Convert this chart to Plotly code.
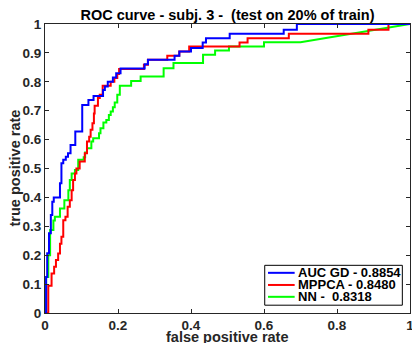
import plotly.graph_objects as go

# ---------------- data ----------------
series_names = ["AUC GD - 0.8854", "MPPCA - 0.8480", "NN -\u00a0 0.8318"]
series_colors = ["#0000FF", "#FF0000", "#00FF00"]

# step points: at fpr x the tpr jumps up to y
gd_fpr = [0.003, 0.006, 0.011, 0.016, 0.020, 0.024, 0.041, 0.045, 0.050, 0.057, 0.063,
          0.070, 0.083, 0.102, 0.119, 0.133, 0.159, 0.164, 0.172, 0.186, 0.195, 0.207,
          0.273, 0.282, 0.355, 0.368, 0.400, 0.432, 0.441, 0.506, 0.654, 0.690]
gd_tpr = [0.125, 0.207, 0.276, 0.339, 0.385, 0.400, 0.449, 0.518, 0.530, 0.541, 0.553,
          0.581, 0.628, 0.720, 0.737, 0.751, 0.772, 0.784, 0.800, 0.815, 0.830, 0.846,
          0.861, 0.876, 0.890, 0.905, 0.917, 0.936, 0.951, 0.966, 0.980, 1.000]
gd_tail_fpr = [1.0]
gd_tail_tpr = [1.0]

mppca_fpr = [0.009, 0.018, 0.025, 0.030, 0.036, 0.041, 0.045, 0.050, 0.056, 0.062,
             0.068, 0.073, 0.077, 0.082, 0.086, 0.095, 0.109, 0.115, 0.121, 0.125,
             0.130, 0.134, 0.136, 0.145, 0.150, 0.158, 0.180, 0.190, 0.198, 0.203,
             0.271, 0.282, 0.335, 0.368, 0.395, 0.533, 0.555, 0.668, 0.886, 0.941]
mppca_tpr = [0.094, 0.137, 0.160, 0.183, 0.206, 0.240, 0.264, 0.321, 0.333, 0.368,
             0.390, 0.425, 0.460, 0.483, 0.500, 0.524, 0.553, 0.593, 0.610, 0.634,
             0.657, 0.690, 0.717, 0.744, 0.755, 0.786, 0.800, 0.813, 0.827, 0.844,
             0.859, 0.876, 0.890, 0.905, 0.922, 0.936, 0.951, 0.966, 0.980, 1.000]
mppca_tail_fpr = [1.0]
mppca_tail_tpr = [1.0]

nn_fpr = [0.003, 0.009, 0.014, 0.023, 0.027, 0.041, 0.053, 0.064, 0.068, 0.073,
          0.082, 0.091, 0.106, 0.110, 0.115, 0.127, 0.132, 0.148, 0.152, 0.160,
          0.168, 0.175, 0.180, 0.186, 0.191, 0.198, 0.205, 0.236, 0.262, 0.325,
          0.352, 0.433, 0.466, 0.504, 0.600]
nn_tpr = [0.125, 0.200, 0.287, 0.320, 0.333, 0.362, 0.390, 0.425, 0.460, 0.483,
          0.495, 0.530, 0.539, 0.555, 0.570, 0.593, 0.605, 0.622, 0.639, 0.659,
          0.668, 0.685, 0.697, 0.712, 0.728, 0.755, 0.786, 0.803, 0.818, 0.847,
          0.865, 0.894, 0.908, 0.922, 0.937]
nn_tail_fpr = [0.700, 1.0]
nn_tail_tpr = [0.937, 1.0]

x_ticks = [0, 0.2, 0.4, 0.6, 0.8, 1]
x_tick_labels = ["0", "0.2", "0.4", "0.6", "0.8", "1"]
y_ticks = [0, 0.1, 0.2, 0.3, 0.4, 0.5, 0.6, 0.7, 0.8, 0.9, 1]
y_tick_labels = ["0", "0.1", "0.2", "0.3", "0.4", "0.5", "0.6", "0.7", "0.8", "0.9", "1"]


def expand(fpr, tpr, tail_fpr, tail_tpr):
    xs, ys = [0.0], [0.0]
    for x, y in zip(fpr, tpr):
        xs += [x, x]
        ys += [ys[-1], y]
    xs += list(tail_fpr)
    ys += list(tail_tpr)
    return xs, ys


curves = [
    expand(gd_fpr, gd_tpr, gd_tail_fpr, gd_tail_tpr),
    expand(mppca_fpr, mppca_tpr, mppca_tail_fpr, mppca_tail_tpr),
    expand(nn_fpr, nn_tpr, nn_tail_fpr, nn_tail_tpr),
]

FONT = "Liberation Sans, Arial, Helvetica, sans-serif"
TXT = "#262626"
W, H = 412, 343
ML, MR, MT, MB = 45, 2, 24, 30

fig = go.Figure()
# draw in order so that blue sits on top like the reference
for (xs, ys), name, col in reversed(list(zip(curves, series_names, series_colors))):
    fig.add_trace(go.Scatter(x=xs, y=ys, mode="lines", name=name,
                             line=dict(color=col, width=2), showlegend=False,
                             hoverinfo="skip"))

axis_common = dict(range=[0, 1], showgrid=False, zeroline=False, showline=True,
                   linecolor=TXT, linewidth=1, mirror="ticks", ticks="inside",
                   ticklen=4, tickcolor=TXT, automargin=False, ticklabeloverflow="allow",
                   tickfont=dict(family=FONT, size=13.5, color=TXT, weight="bold"))

fig.update_layout(
    width=W, height=H,
    margin=dict(l=ML, r=MR, t=MT, b=MB, autoexpand=False),
    paper_bgcolor="white", plot_bgcolor="white",
    title=dict(text="ROC curve - subj. 3 -\u00a0 (test on 20% of train)",
               x=0.5, xref="paper", xanchor="center",
               y=1 - 14.5 / H, yref="container", yanchor="middle", automargin=False,
               font=dict(family=FONT, size=14.5, color="black", weight="bold")),
    xaxis=dict(**axis_common, tickvals=x_ticks, ticktext=x_tick_labels),
    yaxis=dict(**axis_common, tickvals=y_ticks, ticktext=y_tick_labels),
    showlegend=False,
)

# axis titles
fig.add_annotation(text="false positive rate", xref="paper", yref="paper",
                   x=0.5, y=0, yshift=-(336.5 - (H - MB)), xanchor="center", yanchor="middle",
                   showarrow=False,
                   font=dict(family=FONT, size=14.5, color=TXT, weight="bold"))
fig.add_annotation(text="true positive rate", xref="paper", yref="paper",
                   x=0, y=0.5, xshift=-(ML - 14), xanchor="center", yanchor="middle",
                   textangle=-90, showarrow=False,
                   font=dict(family=FONT, size=14.5, color=TXT, weight="bold"))

# legend box (lower right), built from the series names/colours
lx0, lx1, ly0, ly1 = 0.602, 0.979, 0.027, 0.165
fig.add_shape(type="rect", xref="paper", yref="paper", x0=lx0, x1=lx1, y0=ly0, y1=ly1,
              line=dict(color="black", width=1), fillcolor="white", layer="above")
row_y = [0.139, 0.097, 0.056]
for name, col, ry in zip(series_names, series_colors, row_y):
    fig.add_shape(type="line", xref="paper", yref="paper", x0=0.611, x1=0.684, y0=ry, y1=ry,
                  line=dict(color=col, width=2), layer="above")
    fig.add_annotation(text=name, xref="paper", yref="paper", x=0.688, y=ry,
                       xanchor="left", yanchor="middle", showarrow=False,
                       font=dict(family=FONT, size=13, color="black", weight="bold"))

# the page's default 8px body margin would shift the chart; remove it
fig.write_html("out.html", config={"displayModeBar": False, "staticPlot": True},
               post_script="document.body.style.margin='0';")
